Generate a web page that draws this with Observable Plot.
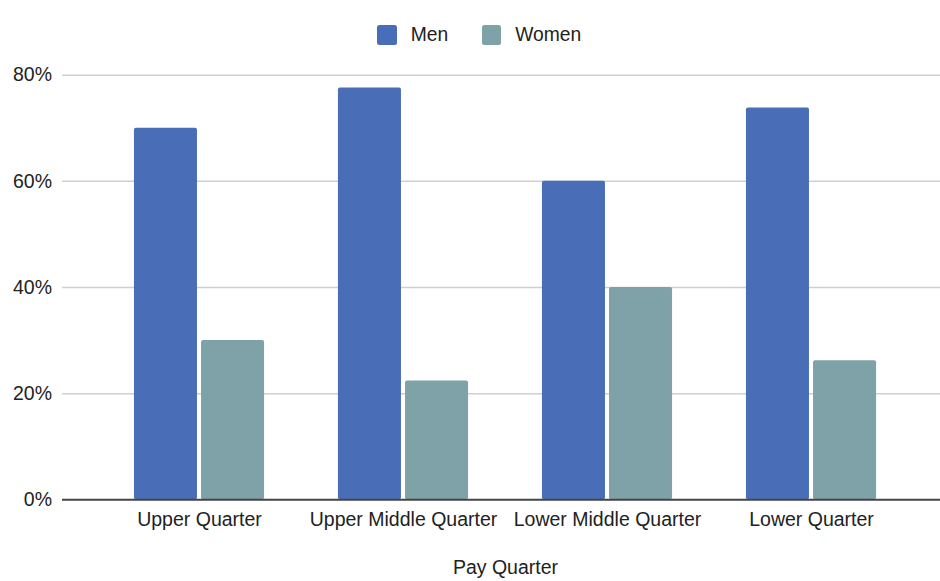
<!DOCTYPE html>
<html>
<head>
<meta charset="utf-8">
<script src="https://cdn.jsdelivr.net/npm/d3@7"></script>
<script src="https://cdn.jsdelivr.net/npm/@observablehq/plot@0.6"></script>
<style>
  html, body { margin: 0; padding: 0; background: #fff; }
  body { width: 940px; height: 581px; overflow: hidden; font-family: "Liberation Sans", Arial, sans-serif; color: #222; }
  #legend { position: relative; height: 55px; box-sizing: border-box; }
  .item { position: absolute; top: 25px; display: flex; align-items: center; height: 19.5px; font-size: 19.3px; }
  .sw { width: 19.5px; height: 19.5px; border-radius: 2.5px; margin-right: 14px; box-sizing: border-box; }
  #chart svg { display: block; }
</style>
</head>
<body>
<div id="legend"></div>
<div id="chart"></div>
<script>
const quarters = ["Upper Quarter", "Upper Middle Quarter", "Lower Middle Quarter", "Lower Quarter"];
const series = ["Men", "Women"];
const men = [70, 77.6, 60, 73.8];
const women = [30, 22.4, 40, 26.2];
const yTicks = [0, 20, 40, 60, 80];
const colors = ["#4a6db8", "#7fa1a8"];

const data = [];
quarters.forEach((q, i) => {
  data.push({quarter: q, series: "Men", value: men[i]});
  data.push({quarter: q, series: "Women", value: women[i]});
});

// legend
const legend = document.getElementById("legend");
const legendLeft = [377.3, 481.7];
series.forEach((s, i) => {
  const it = document.createElement("div");
  it.className = "item";
  it.style.left = legendLeft[i] + "px";
  const sw = document.createElement("div");
  sw.className = "sw";
  sw.style.background = colors[i];
  it.appendChild(sw);
  const t = document.createElement("span");
  t.textContent = s;
  it.appendChild(t);
  legend.appendChild(it);
});

const width = 940, height = 526;
const marginLeft = 62, marginRight = 0;
const insetL = 35.2, insetR = 26.6;
const step = (width - marginLeft - marginRight - insetL - insetR) / quarters.length;
const groupFrac = 0.638, gap = 4;
const outer = step * (1 - groupFrac) / 2;
const barW = (step * groupFrac - gap) / 2;

const chart = Plot.plot({
  width, height,
  marginLeft, marginRight,
  marginTop: 19.7,
  marginBottom: 81.7,
  style: {fontFamily: "Liberation Sans, Arial, sans-serif", fontSize: "19.5px", color: "#222", background: "#fff"},
  x: {type: "band", domain: quarters, padding: 0, insetLeft: insetL, insetRight: insetR},
  y: {domain: [0, 80]},
  color: {domain: series, range: colors},
  marks: [
    Plot.ruleY(yTicks.filter(d => d > 0), {stroke: "#cfcfcf", strokeWidth: 1.5}),
    Plot.barY(data.filter(d => d.series === "Men"), {
      x: "quarter", y: "value", fill: "series", rx: 2,
      insetLeft: outer, insetRight: step - outer - barW
    }),
    Plot.barY(data.filter(d => d.series === "Women"), {
      x: "quarter", y: "value", fill: "series", rx: 2,
      insetLeft: outer + barW + gap, insetRight: outer
    }),
    Plot.ruleY([0], {stroke: "#444", strokeWidth: 2}),
    Plot.axisY(yTicks, {tickFormat: d => d + "%", tickSize: 0, tickPadding: 10.5, label: null}),
    Plot.axisX({tickSize: 0, tickPadding: 12, label: null}),
    Plot.text(["Pay Quarter"], {frameAnchor: "bottom", dy: 74, dx: 4, fill: "#222"})
  ]
});
document.getElementById("chart").appendChild(chart);
</script>
</body>
</html>
